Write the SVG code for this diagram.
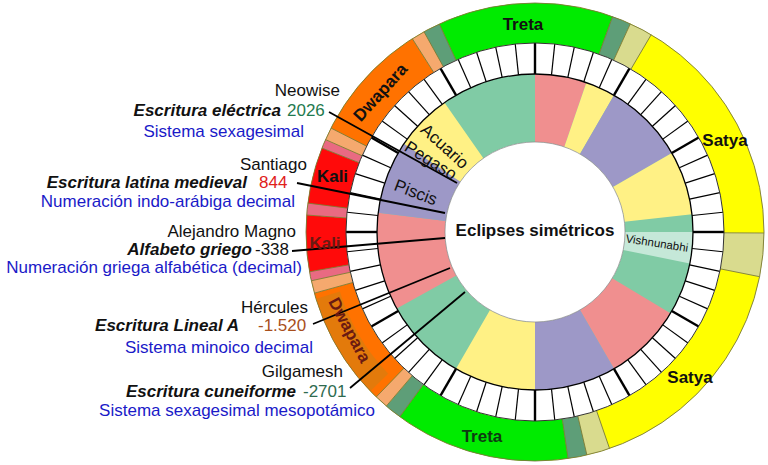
<svg xmlns="http://www.w3.org/2000/svg" xmlns:xlink="http://www.w3.org/1999/xlink" width="768" height="465" viewBox="0 0 768 465">
<style>
text{font-family:"Liberation Sans",Arial,sans-serif;}
.seg{fill:none;}
.yr{stroke-width:40;}
.zr{stroke-width:68;}
.gr{stroke:#00EB00}.dg{stroke:#5E9E78}.kh{stroke:#D9DB8E}.ye{stroke:#FFFF00}
.sa{stroke:#F5A96E}.or{stroke:#FF7200}.pk{stroke:#E96A82}.rd{stroke:#FF0A0A}
.zpk{stroke:#F08F8F}.zye{stroke:#FFF185}.zpu{stroke:#9D98C7}.zgr{stroke:#80CBA5}.zlg{stroke:#C5E8D8}
.tk{stroke:#000;stroke-width:1.2}
.tk2{stroke:#000;stroke-width:2.4}
.yb{stroke:#77773a;stroke-width:0.8}
.yg{font-weight:bold;font-size:17px;text-anchor:middle;fill:#111}
.zd{font-size:17px;text-anchor:middle;fill:#111}
.t{font-size:17px;fill:#111}
.bi{font-weight:bold;font-style:italic}
.bl{fill:#1a1ac8}
.e{text-anchor:end}
.cn{stroke:#000;stroke-width:1.8;fill:none}
</style>
<defs>
<line id="t" class="tk" x1="535" y1="74" x2="535" y2="43"/>
<line id="T" class="tk2" x1="535" y1="74" x2="535" y2="43"/>
<line id="b" class="yb" x1="535" y1="43" x2="535" y2="3"/>
</defs>

<g id="yuga-ring" transform="rotate(-90 535 232)">
<circle class="seg yr ye" cx="535" cy="232" r="209"/>
<circle class="seg yr gr" cx="535" cy="232" r="209" pathLength="360" stroke-dasharray="19.8 400"/>
<circle class="seg yr dg" cx="535" cy="232" r="209" pathLength="360" stroke-dasharray="0 19.8 4.8 400"/>
<circle class="seg yr kh" cx="535" cy="232" r="209" pathLength="360" stroke-dasharray="0 24.6 5.9 400"/>
<circle class="seg yr kh" cx="535" cy="232" r="209" pathLength="360" stroke-dasharray="0 90.25 11 400"/>
<circle class="seg yr kh" cx="535" cy="232" r="209" pathLength="360" stroke-dasharray="0 161 5.9 400"/>
<circle class="seg yr dg" cx="535" cy="232" r="209" pathLength="360" stroke-dasharray="0 166.9 4.8 400"/>
<circle class="seg yr gr" cx="535" cy="232" r="209" pathLength="360" stroke-dasharray="0 171.7 44.5 400"/>
<circle class="seg yr dg" cx="535" cy="232" r="209" pathLength="360" stroke-dasharray="0 216.2 4.3 400"/>
<circle class="seg yr sa" cx="535" cy="232" r="209" pathLength="360" stroke-dasharray="0 220.5 3.4 400"/>
<circle class="seg yr or" cx="535" cy="232" r="209" pathLength="360" stroke-dasharray="0 223.9 30.6 400"/>
<circle class="seg" cx="535" cy="232" r="216" pathLength="360" stroke="#B8861C" stroke-opacity="0.4" stroke-width="24" stroke-dasharray="0 226 27 400"/>
<circle class="seg yr sa" cx="535" cy="232" r="209" pathLength="360" stroke-dasharray="0 254.5 3.2 400"/>
<circle class="seg yr pk" cx="535" cy="232" r="209" pathLength="360" stroke-dasharray="0 257.7 2.3 400"/>
<circle class="seg yr rd" cx="535" cy="232" r="209" pathLength="360" stroke-dasharray="0 260 14.25 400"/>
<circle class="seg yr pk" cx="535" cy="232" r="209" pathLength="360" stroke-dasharray="0 274.25 3 400"/>
<circle class="seg yr rd" cx="535" cy="232" r="209" pathLength="360" stroke-dasharray="0 277.25 14.25 400"/>
<circle class="seg yr pk" cx="535" cy="232" r="209" pathLength="360" stroke-dasharray="0 291.5 2.3 400"/>
<circle class="seg yr sa" cx="535" cy="232" r="209" pathLength="360" stroke-dasharray="0 293.8 3.2 400"/>
<circle class="seg yr or" cx="535" cy="232" r="209" pathLength="360" stroke-dasharray="0 297 30.6 400"/>
<circle class="seg yr sa" cx="535" cy="232" r="209" pathLength="360" stroke-dasharray="0 327.6 3.4 400"/>
<circle class="seg yr dg" cx="535" cy="232" r="209" pathLength="360" stroke-dasharray="0 331 4.3 400"/>
<circle class="seg yr gr" cx="535" cy="232" r="209" pathLength="360" stroke-dasharray="0 335.3 24.7 400"/>
</g>

<g id="yuga-borders">
<use href="#b" transform="rotate(19.8 535 232)"/><use href="#b" transform="rotate(24.6 535 232)"/>
<use href="#b" transform="rotate(30.5 535 232)"/><use href="#b" transform="rotate(90.25 535 232)"/>
<use href="#b" transform="rotate(101.25 535 232)"/><use href="#b" transform="rotate(161 535 232)"/>
<use href="#b" transform="rotate(166.9 535 232)"/><use href="#b" transform="rotate(171.7 535 232)"/>
<use href="#b" transform="rotate(216.2 535 232)"/><use href="#b" transform="rotate(220.5 535 232)"/>
<use href="#b" transform="rotate(223.9 535 232)"/><use href="#b" transform="rotate(254.5 535 232)"/>
<use href="#b" transform="rotate(257.7 535 232)"/><use href="#b" transform="rotate(260 535 232)"/>
<use href="#b" transform="rotate(274.25 535 232)"/><use href="#b" transform="rotate(277.25 535 232)"/>
<use href="#b" transform="rotate(291.5 535 232)"/><use href="#b" transform="rotate(293.8 535 232)"/>
<use href="#b" transform="rotate(297 535 232)"/><use href="#b" transform="rotate(327.6 535 232)"/>
<use href="#b" transform="rotate(331 535 232)"/><use href="#b" transform="rotate(335.3 535 232)"/>
<circle cx="535" cy="232" r="229" fill="none" stroke="#77773a" stroke-width="0.9"/>
</g>

<g id="zodiac-ring" transform="rotate(-90 535 232)">
<circle class="seg zr zgr" cx="535" cy="232" r="124"/>
<circle class="seg zr zpk" cx="535" cy="232" r="124" pathLength="360" stroke-dasharray="19 400"/>
<circle class="seg zr zye" cx="535" cy="232" r="124" pathLength="360" stroke-dasharray="0 19 11 400"/>
<circle class="seg zr zpu" cx="535" cy="232" r="124" pathLength="360" stroke-dasharray="0 30 30 400"/>
<circle class="seg zr zye" cx="535" cy="232" r="124" pathLength="360" stroke-dasharray="0 60 23.5 400"/>
<circle class="seg zr zlg" cx="535" cy="232" r="124" pathLength="360" stroke-dasharray="0 90 11.5 400"/>
<circle class="seg zr zpk" cx="535" cy="232" r="124" pathLength="360" stroke-dasharray="0 121 29 400"/>
<circle class="seg zr zpu" cx="535" cy="232" r="124" pathLength="360" stroke-dasharray="0 150 30 400"/>
<circle class="seg zr zye" cx="535" cy="232" r="124" pathLength="360" stroke-dasharray="0 180 30 400"/>
<circle class="seg zr zpk" cx="535" cy="232" r="124" pathLength="360" stroke-dasharray="0 241 36 400"/>
<circle class="seg zr zpu" cx="535" cy="232" r="124" pathLength="360" stroke-dasharray="0 277 27 400"/>
<circle class="seg zr zye" cx="535" cy="232" r="124" pathLength="360" stroke-dasharray="0 304 21 400"/>
</g>

<g id="tick-ring">
<circle cx="535" cy="232" r="173.5" fill="none" stroke="#fff" stroke-width="31"/>
<use href="#T"/><use href="#T" transform="rotate(30 535 232)"/><use href="#T" transform="rotate(60 535 232)"/><use href="#T" transform="rotate(90 535 232)"/>
<use href="#T" transform="rotate(120 535 232)"/><use href="#T" transform="rotate(150 535 232)"/><use href="#T" transform="rotate(180 535 232)"/><use href="#T" transform="rotate(210 535 232)"/>
<use href="#T" transform="rotate(240 535 232)"/><use href="#T" transform="rotate(270 535 232)"/><use href="#T" transform="rotate(300 535 232)"/><use href="#T" transform="rotate(330 535 232)"/>
<use href="#t" transform="rotate(6 535 232)"/><use href="#t" transform="rotate(12 535 232)"/><use href="#t" transform="rotate(18 535 232)"/><use href="#t" transform="rotate(24 535 232)"/>
<use href="#t" transform="rotate(36 535 232)"/><use href="#t" transform="rotate(42 535 232)"/><use href="#t" transform="rotate(48 535 232)"/><use href="#t" transform="rotate(54 535 232)"/>
<use href="#t" transform="rotate(66 535 232)"/><use href="#t" transform="rotate(72 535 232)"/><use href="#t" transform="rotate(78 535 232)"/><use href="#t" transform="rotate(84 535 232)"/>
<use href="#t" transform="rotate(96 535 232)"/><use href="#t" transform="rotate(102 535 232)"/><use href="#t" transform="rotate(108 535 232)"/><use href="#t" transform="rotate(114 535 232)"/>
<use href="#t" transform="rotate(126 535 232)"/><use href="#t" transform="rotate(132 535 232)"/><use href="#t" transform="rotate(138 535 232)"/><use href="#t" transform="rotate(144 535 232)"/>
<use href="#t" transform="rotate(156 535 232)"/><use href="#t" transform="rotate(162 535 232)"/><use href="#t" transform="rotate(168 535 232)"/><use href="#t" transform="rotate(174 535 232)"/>
<use href="#t" transform="rotate(186 535 232)"/><use href="#t" transform="rotate(192 535 232)"/><use href="#t" transform="rotate(198 535 232)"/><use href="#t" transform="rotate(204 535 232)"/>
<use href="#t" transform="rotate(216 535 232)"/><use href="#t" transform="rotate(222 535 232)"/><use href="#t" transform="rotate(228 535 232)"/><use href="#t" transform="rotate(234 535 232)"/>
<use href="#t" transform="rotate(246 535 232)"/><use href="#t" transform="rotate(252 535 232)"/><use href="#t" transform="rotate(258 535 232)"/><use href="#t" transform="rotate(264 535 232)"/>
<use href="#t" transform="rotate(276 535 232)"/><use href="#t" transform="rotate(282 535 232)"/><use href="#t" transform="rotate(288 535 232)"/><use href="#t" transform="rotate(294 535 232)"/>
<use href="#t" transform="rotate(306 535 232)"/><use href="#t" transform="rotate(312 535 232)"/><use href="#t" transform="rotate(318 535 232)"/><use href="#t" transform="rotate(324 535 232)"/>
<use href="#t" transform="rotate(336 535 232)"/><use href="#t" transform="rotate(342 535 232)"/><use href="#t" transform="rotate(348 535 232)"/><use href="#t" transform="rotate(354 535 232)"/>
<circle cx="535" cy="232" r="158" fill="none" stroke="#000" stroke-width="1.3"/>
<circle cx="535" cy="232" r="189" fill="none" stroke="#333" stroke-width="1"/>
</g>

<g id="center">
<circle cx="535" cy="232" r="90" fill="#fff" stroke="#888" stroke-width="0.7"/>
<text class="yg" x="535" y="236">Eclipses simétricos</text>
</g>

<g id="connectors">
<line class="cn" x1="329" y1="112" x2="457" y2="183"/>
<line class="cn" x1="297" y1="183" x2="445" y2="213"/>
<line class="cn" x1="292" y1="251" x2="445" y2="238"/>
<line class="cn" x1="313" y1="324" x2="450" y2="268"/>
<line class="cn" x1="350" y1="388" x2="465" y2="292"/>
</g>

<g id="yuga-labels">
<text class="yg" x="523" y="30">Treta</text>
<text class="yg" x="482" y="442" style="fill:#0e3a12">Treta</text>
<text class="yg" x="725" y="146">Satya</text>
<text class="yg" x="690" y="383">Satya</text>
<text class="yg" x="332.5" y="182">Kali</text>
<text class="yg" x="325" y="249" style="fill:#6a1a12">Kali</text>
<g transform="translate(380 92) rotate(-48)"><text class="yg" x="0" y="0" dy="0.36em">Dwapara</text></g>
<g transform="translate(350 330) rotate(62)"><text class="yg" x="0" y="0" dy="0.36em" style="fill:#6a1a12">Dwapara</text></g>
</g>

<g id="zodiac-labels">
<g transform="translate(445 146) rotate(42)"><text class="zd" x="0" y="0" dy="0.36em">Acuario</text></g>
<g transform="translate(431 160) rotate(32)"><text class="zd" x="0" y="0" dy="0.36em">Pegaso</text></g>
<g transform="translate(416 192) rotate(21)"><text class="zd" x="0" y="0" dy="0.36em">Piscis</text></g>
<g transform="translate(657 243) rotate(9)"><text class="zd" x="0" y="0" dy="0.36em" style="font-size:11.5px">Vishnunabhi</text></g>
</g>

<g id="neowise">
<text class="t e" x="340" y="96">Neowise</text>
<text class="t bi e" x="281" y="116">Escritura eléctrica</text>
<text class="t" x="287" y="116" style="fill:#1f7a4f">2026</text>
<text class="t bl e" x="304" y="137">Sistema sexagesimal</text>
</g>
<g id="santiago">
<text class="t e" x="307" y="170">Santiago</text>
<text class="t bi e" x="247" y="188">Escritura latina medieval</text>
<text class="t" x="259" y="188" style="fill:#e0201a">844</text>
<text class="t bl e" x="295" y="207">Numeración indo-arábiga decimal</text>
</g>
<g id="alejandro">
<text class="t e" x="296" y="237">Alejandro Magno</text>
<text class="t bi e" x="252" y="255">Alfabeto griego</text>
<text class="t" x="255" y="255">-338</text>
<text class="t bl e" x="302" y="273">Numeración griega alfabética (decimal)</text>
</g>
<g id="hercules">
<text class="t e" x="308" y="313">Hércules</text>
<text class="t bi e" x="239" y="331">Escritura Lineal A</text>
<text class="t" x="258" y="331" style="fill:#a84f1c">-1.520</text>
<text class="t bl e" x="313" y="353">Sistema minoico decimal</text>
</g>
<g id="gilgamesh">
<text class="t e" x="343" y="377">Gilgamesh</text>
<text class="t bi e" x="296" y="397">Escritura cuneiforme</text>
<text class="t" x="303" y="397" style="fill:#2f6b50">-2701</text>
<text class="t bl e" x="375" y="416">Sistema sexagesimal mesopotámico</text>
</g>
</svg>
